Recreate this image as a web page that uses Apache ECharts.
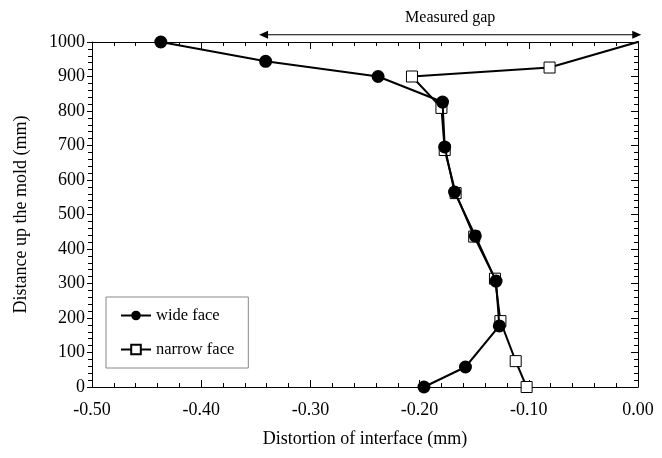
<!DOCTYPE html>
<html><head><meta charset="utf-8">
<script src="https://cdn.jsdelivr.net/npm/echarts@6/dist/echarts.min.js"></script>
<style>html,body{margin:0;padding:0;background:#fff}#c{width:662px;height:458px}</style>
</head><body><div id="c"></div>
<script>
const wideX = [-0.437, -0.341, -0.238, -0.179, -0.177, -0.168, -0.149, -0.130, -0.127, -0.158, -0.196];
const wideY = [1000, 944, 900, 826, 696, 565, 438, 307, 177, 58, 0];
const narrowX = [0.004, -0.081, -0.207, -0.180, -0.177, -0.167, -0.150, -0.131, -0.126, -0.112, -0.102];
const narrowY = [1004, 926, 900, 809, 687, 562, 436, 314, 191, 75, 0];
const gapRange = [-0.347, 0.003];
const gapLevel = 1021;
const gapLabel = 'Measured gap';
const xTicks = {min: -0.5, max: 0, interval: 0.1};
const yTicks = {min: 0, max: 1000, interval: 100};

const FONT = 'Liberation Serif';
const chart = echarts.init(document.getElementById('c'));
const pair = (xs, ys) => xs.map((x, i) => [x, ys[i]]);
const axisLine = {show: true, onZero: false, lineStyle: {color: '#000', width: 1}};
const tickStyle = {color: '#000', width: 1};
chart.setOption({
  animation: false,
  backgroundColor: '#fff',
  grid: {left: 92, right: 24, top: 42, bottom: 71},
  legend: {
    left: 106, top: 297, orient: 'vertical',
    padding: [10, 14, 10, 14], itemGap: 17,
    itemWidth: 30, itemHeight: 12,
    borderColor: '#888', borderWidth: 1,
    textStyle: {fontFamily: FONT, fontSize: 16.5, color: '#000'},
    data: ['wide face', 'narrow face']
  },
  xAxis: [
    {type: 'value', position: 'bottom', min: xTicks.min, max: xTicks.max, interval: xTicks.interval,
      name: 'Distortion of interface (mm)', nameLocation: 'middle', nameGap: 43,
      nameTextStyle: {fontFamily: FONT, fontSize: 18, color: '#000'},
      axisLine: axisLine, splitLine: {show: false},
      axisTick: {show: true, inside: true, length: 7, lineStyle: tickStyle},
      minorTick: {show: true, splitNumber: 5, length: 4, lineStyle: tickStyle},
      axisLabel: {fontFamily: FONT, fontSize: 18, color: '#000', margin: 14, formatter: v => v.toFixed(2)}},
    {type: 'value', position: 'top', min: xTicks.min, max: xTicks.max, interval: xTicks.interval,
      axisLine: axisLine, splitLine: {show: false},
      axisTick: {show: true, inside: true, length: 7, lineStyle: tickStyle},
      minorTick: {show: true, splitNumber: 5, length: 4, lineStyle: tickStyle},
      axisLabel: {show: false}}
  ],
  yAxis: [
    {type: 'value', position: 'left', min: yTicks.min, max: yTicks.max, interval: yTicks.interval,
      name: 'Distance up the mold (mm)', nameLocation: 'middle', nameGap: 62, nameRotate: 90,
      nameTextStyle: {fontFamily: FONT, fontSize: 18, color: '#000'},
      axisLine: axisLine, splitLine: {show: false},
      axisTick: {show: true, inside: false, length: 5, lineStyle: tickStyle},
      minorTick: {show: true, splitNumber: 5, length: 4, lineStyle: tickStyle},
      axisLabel: {fontFamily: FONT, fontSize: 18, color: '#000', margin: 7, formatter: v => String(v)}},
    {type: 'value', position: 'right', min: yTicks.min, max: yTicks.max, interval: yTicks.interval,
      axisLine: axisLine, splitLine: {show: false},
      axisTick: {show: true, inside: true, length: 7, lineStyle: tickStyle},
      minorTick: {show: true, splitNumber: 5, length: 4, lineStyle: tickStyle},
      axisLabel: {show: false}}
  ],
  series: [
    {name: 'wide face', type: 'line', data: pair(wideX, wideY), clip: true,
      symbol: 'circle', symbolSize: 13,
      itemStyle: {color: '#000'}, lineStyle: {color: '#000', width: 2}, z: 3},
    {name: 'narrow face', type: 'line', data: pair(narrowX, narrowY), clip: true,
      symbol: 'rect', symbolSize: 11,
      itemStyle: {color: '#fff', borderColor: '#000', borderWidth: 1},
      lineStyle: {color: '#000', width: 2}, z: 2}
  ]
});

// "Measured gap" annotation placed via the axis scales (outside the plot range)
const finder = {xAxisIndex: 0, yAxisIndex: 0};
const a = chart.convertToPixel(finder, [gapRange[0], gapLevel]);
const b = chart.convertToPixel(finder, [gapRange[1], gapLevel]);
const ah = 9, aw = 4;
chart.setOption({
  graphic: [
    {type: 'line', shape: {x1: a[0] + ah - 1, y1: a[1], x2: b[0] - ah + 1, y2: b[1]},
      style: {stroke: '#000', lineWidth: 1}},
    {type: 'polygon', shape: {points: [[a[0], a[1]], [a[0] + ah, a[1] - aw], [a[0] + ah, a[1] + aw]]},
      style: {fill: '#000'}},
    {type: 'polygon', shape: {points: [[b[0], b[1]], [b[0] - ah, b[1] - aw], [b[0] - ah, b[1] + aw]]},
      style: {fill: '#000'}},
    {type: 'text', x: (a[0] + b[0]) / 2, y: a[1] - 9,
      style: {text: gapLabel, font: '16px "Liberation Serif"', fill: '#000', align: 'center', verticalAlign: 'bottom'}}
  ]
});
</script></body></html>
